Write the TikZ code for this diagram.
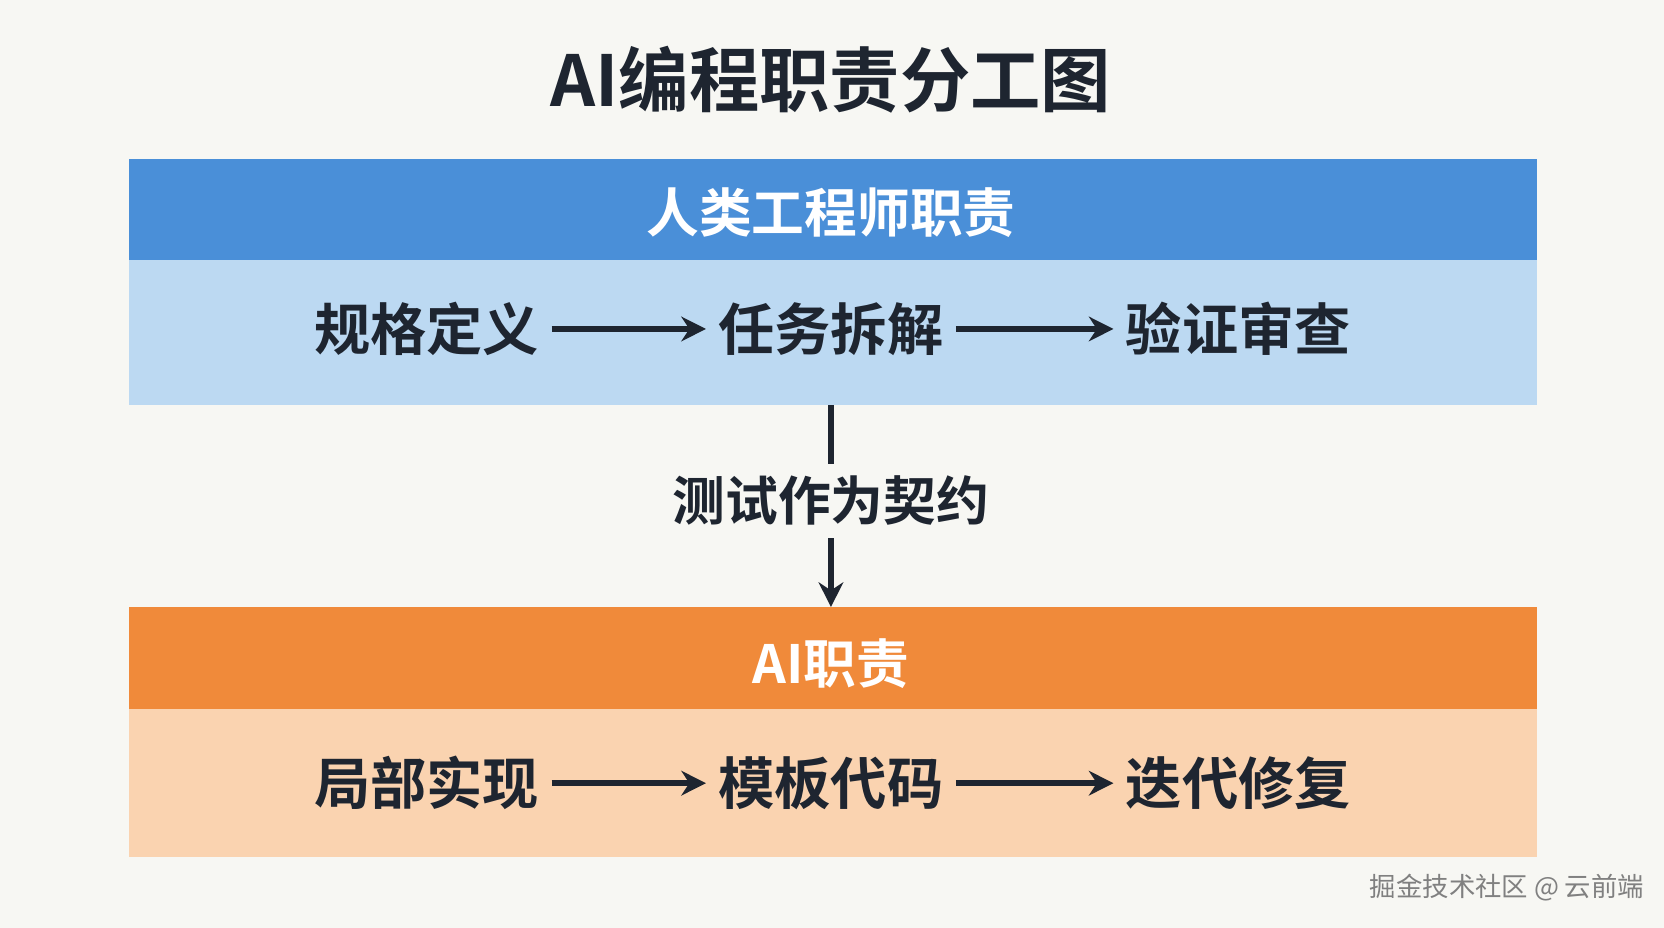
\documentclass[tikz,border=0pt]{standalone}
\usepackage{fontspec}
\setmainfont{Noto Sans CJK SC}[BoldFont={Noto Sans CJK SC Bold}]
\usetikzlibrary{arrows.meta}
\definecolor{bgcol}{HTML}{F7F7F3}
\definecolor{bluehead}{HTML}{4A8FD8}
\definecolor{bluebody}{HTML}{BCD9F2}
\definecolor{orangehead}{HTML}{F08A3A}
\definecolor{orangebody}{HTML}{FAD3B0}
\definecolor{ink}{HTML}{1E2530}
\begin{document}
\begin{tikzpicture}[x=0.01061cm,y=-0.01061cm,
            head/.style={text=white,font=\fontsize{15}{15}\selectfont\bfseries},
            item/.style={text=ink,font=\fontsize{16}{16}\selectfont\bfseries},
            flow/.style={-{Stealth[length=7pt,width=7pt]},line width=1.6pt,draw=ink}]
            
            \fill[bgcol] (0,0) rectangle (1568,874);
            \node (title) [text=ink,font=\fontsize{20}{20}\selectfont\bfseries] at (783,75) {AI编程职责分工图};
            
            % human block
            \fill[bluebody] (122,245) rectangle (1448,382);
            \fill[bluehead] (122,150) rectangle (1448,245);
            \node (humanhead) [head] at (783,200) {人类工程师职责};
            \node (node1) [item] at (402,310) {规格定义};
            \node (node2) [item] at (783,310) {任务拆解};
            \node (node3) [item] at (1167,310) {验证审查};
            \draw[flow] (node1) -- (node2);
            \draw[flow] (node2) -- (node3);
            
            % ai block
            \fill[orangebody] (122,668) rectangle (1448,808);
            \fill[orangehead] (122,572) rectangle (1448,668);
            \node (aihead) [head] at (783,625) {AI职责};
            \node (node4) [item] at (402,738) {局部实现};
            \node (node5) [item] at (783,738) {模板代码};
            \node (node6) [item] at (1167,738) {迭代修复};
            \draw[flow] (node4) -- (node5);
            \draw[flow] (node5) -- (node6);
            
            % contract
            \coordinate (humanbottom) at (783,382);
            \coordinate (aitop) at (783,572);
            \node (contract) [text=ink,font=\fontsize{15}{15}\selectfont\bfseries] at (783,472) {测试作为契约};
            \draw[line width=1.6pt,draw=ink] (humanbottom) -- (contract);
            \draw[flow] (contract) -- (aitop);
            
            \node (mark) [text=gray,font=\fontsize{7.5}{7.5}\selectfont] at (1420,836) {掘金技术社区 @ 云前端};
\end{tikzpicture}
\end{document}
